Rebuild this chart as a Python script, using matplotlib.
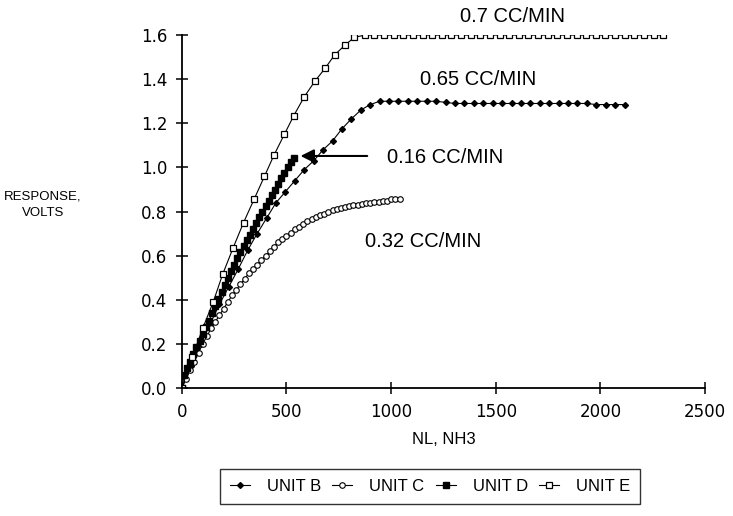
import numpy as np
import matplotlib
matplotlib.use("Agg")
import matplotlib.pyplot as plt

plt.rcParams['font.family'] = ['DejaVu Sans']

# UNIT B (0.65 cc/min)
b_x = list(range(0, 2151, 45))
b_y = [0.0, 0.10, 0.20, 0.29, 0.38, 0.46, 0.54, 0.625, 0.70, 0.77, 0.84, 0.89, 0.94, 0.99,
       1.03, 1.08, 1.12, 1.175, 1.22, 1.26, 1.285, 1.30, 1.30, 1.30, 1.30, 1.30, 1.30, 1.30,
       1.295, 1.29, 1.29, 1.29, 1.29, 1.29, 1.29, 1.29, 1.29, 1.29, 1.29, 1.29, 1.29, 1.29,
       1.29, 1.29, 1.285, 1.285, 1.285, 1.285]

# UNIT C (0.32 cc/min)
c_x = list(range(0, 1041, 20))
c_y = [0.0, 0.04, 0.08, 0.12, 0.16, 0.20, 0.235, 0.27, 0.30, 0.33, 0.36, 0.39, 0.42, 0.445,
       0.47, 0.495, 0.52, 0.54, 0.56, 0.58, 0.60, 0.62, 0.64, 0.66, 0.675, 0.69, 0.705, 0.72,
       0.73, 0.745, 0.755, 0.765, 0.775, 0.785, 0.79, 0.80, 0.805, 0.81, 0.815, 0.82, 0.825,
       0.83, 0.83, 0.835, 0.84, 0.84, 0.845, 0.845, 0.85, 0.85, 0.855, 0.855, 0.855]

# UNIT D (0.16 cc/min)
d_x = [0, 10] + list(range(25, 536, 15))
d_y = [0.0, 0.06, 0.09, 0.12, 0.155, 0.185, 0.215, 0.245, 0.275, 0.305, 0.34, 0.37, 0.405,
       0.435, 0.465, 0.50, 0.53, 0.56, 0.59, 0.615, 0.645, 0.67, 0.695, 0.72, 0.75, 0.775,
       0.80, 0.825, 0.85, 0.875, 0.90, 0.925, 0.95, 0.975, 1.0, 1.025, 1.045]

# UNIT E (0.7 cc/min)
e_x = [0, 50, 100, 150, 195, 245, 295, 345, 395, 440, 490, 535, 585, 635, 685, 730, 780,
       825, 875] + list(range(920, 2301, 46))
e_y = [0.0, 0.14, 0.27, 0.39, 0.515, 0.635, 0.75, 0.855, 0.96, 1.055, 1.15, 1.235, 1.32,
       1.39, 1.45, 1.51, 1.555, 1.59, 1.60] + [1.60] * 31

fig = plt.figure(figsize=(7.33, 5.16), dpi=100)
ax = fig.add_axes([0.248, 0.248, 0.714, 0.684])

ax.plot(b_x, b_y, '-', color='black', lw=0.8, marker='D', ms=3, mfc='black', label='UNIT B')
ax.plot(c_x, c_y, '-', color='black', lw=0.8, marker='o', ms=4, mfc='white', mew=0.8, label='UNIT C')
ax.plot(d_x, d_y, '-', color='black', lw=0.8, marker='s', ms=4, mfc='black', label='UNIT D')
ax.plot(e_x, e_y, '-', color='black', lw=0.8, marker='s', ms=5, mfc='white', mew=0.9, label='UNIT E')

ax.set_xlim(0, 2500)
ax.set_ylim(0, 1.6)
ax.set_xticks(np.arange(0, 2501, 500))
ax.set_yticks(np.arange(0, 1.61, 0.2))
ax.set_yticklabels([f"{v:.1f}" for v in np.arange(0, 1.61, 0.2)])
for s in ['top', 'right']:
    ax.spines[s].set_visible(False)
for s in ['left', 'bottom']:
    ax.spines[s].set_linewidth(1.3)
ax.tick_params(direction='inout', length=9, width=1.1, labelsize=12, pad=6)

ax.set_xlabel("NL, NH3", fontsize=12, family='Liberation Sans', labelpad=8)
ax.set_ylabel("RESPONSE,\nVOLTS", fontsize=9.5, family='Liberation Sans', rotation=0,
              ha='center', va='center', linespacing=1.5)
ax.yaxis.set_label_coords(-0.265, 0.52)

lab = dict(fontsize=14.5, family='Liberation Sans', va='center')
ax.text(1329, 1.686, "0.7 CC/MIN", clip_on=False, **lab)
ax.text(1138, 1.40, "0.65 CC/MIN", **lab)
ax.text(980, 1.043, "0.16 CC/MIN", **lab)
ax.text(875, 0.666, "0.32 CC/MIN", **lab)
ax.annotate("", xy=(554, 1.052), xytext=(899, 1.052),
            arrowprops=dict(arrowstyle='-|>', color='black', lw=1.5, mutation_scale=20))

leg = fig.legend(loc='upper left', bbox_to_anchor=(0.3, 0.091), ncol=4,
                 prop={'family': 'Liberation Sans', 'size': 12},
                 frameon=True, fancybox=False, edgecolor='black', handlelength=1.2,
                 handletextpad=1.0, columnspacing=0.7, borderpad=0.6, borderaxespad=0)
leg.get_frame().set_linewidth(1.0)

fig.savefig("out.png", dpi=100)
